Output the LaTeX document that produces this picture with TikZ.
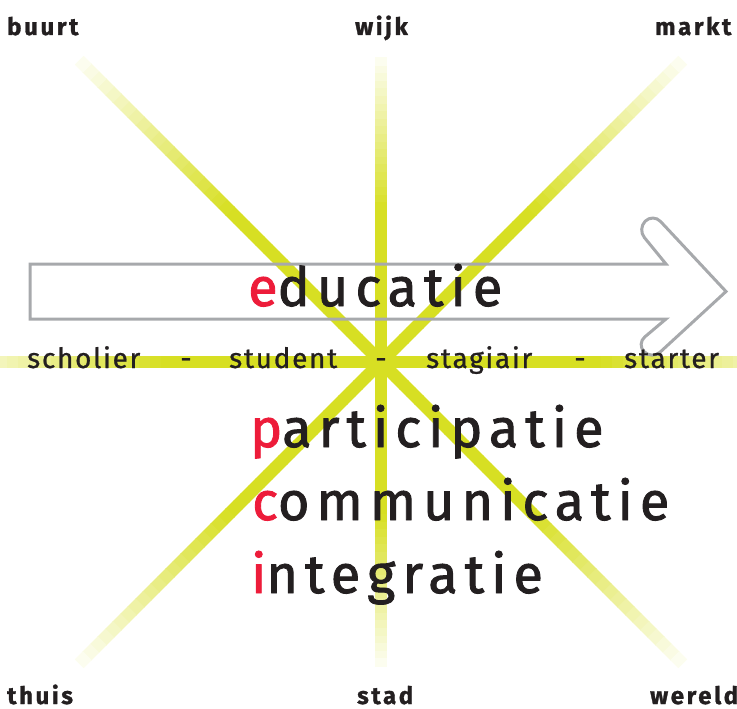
\documentclass[tikz,border=0pt]{standalone}
\usepackage{fontspec}
\setmainfont{Fira Sans}
\newfontfamily\grootfont[LetterSpace=13,FakeBold=1.6]{Fira Sans}
\newfontfamily\middenfont[LetterSpace=6,FakeBold=0.8]{Fira Sans}
\newfontfamily\hoekfont[LetterSpace=11,FakeBold=1.2]{Fira Sans}
\usepackage{xcolor}
\usetikzlibrary{calc}

\definecolor{lijngeel}{RGB}{215,223,35}
\definecolor{pijlgrijs}{RGB}{167,169,172}
\definecolor{tekstzwart}{RGB}{35,31,32}
\definecolor{letterrood}{RGB}{237,28,58}

\newcommand\rood[1]{{\color{letterrood}#1}}

\tikzset{
  hoek/.style={anchor=base west, inner sep=0pt, text=tekstzwart, font=\hoekfont\bfseries\fontsize{24}{24}\selectfont},
  midden/.style={anchor=base west, inner sep=0pt, text=tekstzwart, font=\middenfont\fontsize{28}{28}\selectfont},
  groot/.style={anchor=base west, inner sep=0pt, text=tekstzwart, font=\grootfont\fontsize{54}{54}\selectfont},
  straal/.style={line width=12.5, line cap=butt},
  pijl/.style={draw=pijlgrijs, line width=3}
}

\begin{document}
\begin{tikzpicture}[x=1pt,y=-1pt]
	\useasboundingbox (0,0) rectangle (737,709);
	\coordinate (mid) at (381,362);

	% stralen, naar buiten toe verlopend
	\foreach \a/\lengte in {0/440,45/426,90/304,135/426,180/440,225/426,270/304,315/426}
		\foreach \i in {0,...,39}{
			\pgfmathsetmacro\f{(\i+0.5)/40}
			\pgfmathsetmacro\pct{\f<0.5 ? 100 : 100-(\f-0.5)*190}
			\pgfmathsetmacro\van{\i/40*\lengte}
			\pgfmathsetmacro\tot{(\i+1)/40*\lengte+0.8}
			\draw[straal, draw=lijngeel!\pct] ($(mid)+(\a:\van)$) -- ($(mid)+(\a:\tot)$);
		}

	% pijl
	\draw[pijl] (30,264) -- (666,264) [rounded corners=11] -- (637.4,229) -- (653,213.4) [sharp corners] -- (726,291.5)
		[rounded corners=11] -- (652,359.6) -- (636.4,344) [sharp corners] -- (666,319) -- (30,319) -- cycle;

	\node[hoek] (buurt) at (7,35) {buurt};
	\node[hoek] (wijk) at (355,35) {wijk};
	\node[hoek] (markt) at (655,35) {markt};
	\node[hoek] (thuis) at (7,704) {thuis};
	\node[hoek] (stad) at (357,704) {stad};
	\node[hoek] (wereld) at (650,704) {wereld};

	\node[midden] (scholier) at (27,368) {scholier};
	\node[midden, anchor=base] (streep1) at (186,368) {-};
	\node[midden] (student) at (229,368) {student};
	\node[midden, anchor=base] (streep2) at (381,368) {-};
	\node[midden] (stagiair) at (426,368) {stagiair};
	\node[midden, anchor=base] (streep3) at (580,368) {-};
	\node[midden] (starter) at (624,368) {starter};

	\node[groot] (educatie) at (248,306) {\rood{e}ducatie};
	\node[groot] (participatie) at (250,447) {\rood{p}articipatie};
	\node[groot] (communicatie) at (252,520) {\rood{c}ommunicatie};
	\node[groot] (integratie) at (251,593) {\rood{i}ntegratie};
\end{tikzpicture}
\end{document}
